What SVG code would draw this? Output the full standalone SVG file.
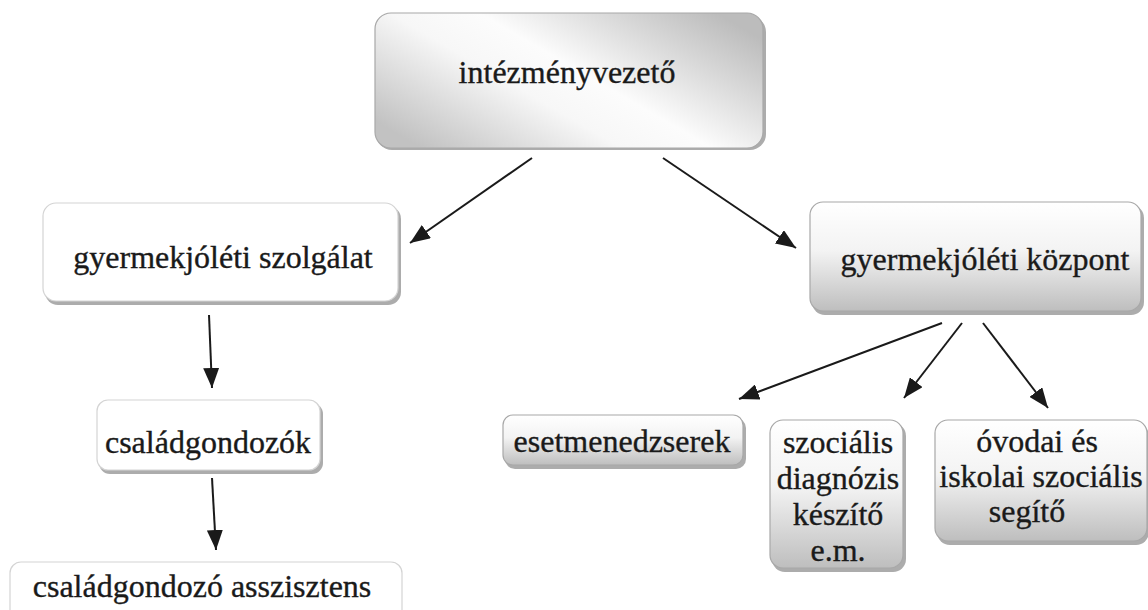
<svg xmlns="http://www.w3.org/2000/svg" width="1148" height="610" viewBox="0 0 1148 610" font-family="'Liberation Serif', 'Times New Roman', serif">
<style>
  text { font-size: 32px; fill: #1a1a1a; stroke: #1a1a1a; stroke-width: 0.35; text-anchor: middle; }
  .shadow { fill: #909090; opacity: 0.75; }
  .box-white { fill: #ffffff; stroke: #d4d4d4; stroke-width: 1.2; }
  .box-vert { fill: url(#gVert); stroke: #a8a8a8; stroke-width: 1.2; }
  .box-top { fill: url(#gTop); stroke: #a8a8a8; stroke-width: 1.2; }
  .conn { stroke: #1a1a1a; stroke-width: 2; fill: none; marker-end: url(#arrow); }
</style>
<defs>
  <linearGradient id="gTop" x1="0" y1="0.8" x2="1" y2="0.2">
    <stop offset="0" stop-color="#c2c2c2"/>
    <stop offset="0.38" stop-color="#f7f7f7"/>
    <stop offset="0.55" stop-color="#fcfcfc"/>
    <stop offset="0.8" stop-color="#d8d8d8"/>
    <stop offset="1" stop-color="#bcbcbc"/>
  </linearGradient>
  <linearGradient id="gVert" x1="0" y1="0" x2="0" y2="1">
    <stop offset="0" stop-color="#ffffff"/>
    <stop offset="0.45" stop-color="#f3f3f3"/>
    <stop offset="1" stop-color="#bebebe"/>
  </linearGradient>
  <marker id="arrow" markerUnits="userSpaceOnUse" markerWidth="22" markerHeight="16" refX="20" refY="8" orient="auto">
    <path d="M0,0 L20,8 L0,16 z" fill="#1a1a1a"/>
  </marker>
</defs>

<g id="connectors">
  <line class="conn" x1="532" y1="158" x2="410" y2="243"/>
  <line class="conn" x1="663" y1="158" x2="796" y2="248"/>
  <line class="conn" x1="209" y1="315" x2="212" y2="388"/>
  <line class="conn" x1="212" y1="478" x2="216" y2="550"/>
  <line class="conn" x1="942" y1="323" x2="739" y2="399"/>
  <line class="conn" x1="962" y1="323" x2="904" y2="398"/>
  <line class="conn" x1="983" y1="323" x2="1048" y2="408"/>
</g>

<g id="node-intezmenyvezeto">
  <rect class="shadow" x="376" y="16" width="390" height="134" rx="16"/>
  <rect class="box-top" x="375" y="13" width="388" height="135" rx="16"/>
  <text x="567" y="83">intézményvezető</text>
</g>

<g id="node-szolgalat">
  <rect class="shadow" x="45" y="206" width="356" height="99" rx="13" opacity="0.5"/>
  <rect class="box-white" x="43" y="203" width="355" height="98" rx="13"/>
  <text x="223" y="268">gyermekjóléti szolgálat</text>
</g>

<g id="node-kozpont">
  <rect class="shadow" x="812" y="205" width="332" height="110" rx="13"/>
  <rect class="box-vert" x="810" y="202" width="331" height="109" rx="13"/>
  <text x="985" y="270">gyermekjóléti központ</text>
</g>

<g id="node-csaladgondozok">
  <rect class="shadow" x="99" y="403" width="224" height="71" rx="11" opacity="0.5"/>
  <rect class="box-white" x="97" y="400" width="223" height="70" rx="11"/>
  <text x="208" y="453">családgondozók</text>
</g>

<g id="node-asszisztens">
  <rect class="box-white" x="10" y="562" width="392" height="60" rx="11"/>
  <text x="202" y="597">családgondozó asszisztens</text>
</g>

<g id="node-esetmenedzserek">
  <rect class="shadow" x="505" y="418" width="241" height="51" rx="10"/>
  <rect class="box-vert" x="503" y="415" width="240" height="50" rx="10"/>
  <text x="622" y="452">esetmenedzserek</text>
</g>

<g id="node-szocialis-diagnozis">
  <rect class="shadow" x="772" y="423" width="134" height="149" rx="13"/>
  <rect class="box-vert" x="770" y="420" width="133" height="148" rx="13"/>
  <text x="838" y="453">szociális</text>
  <text x="838" y="489">diagnózis</text>
  <text x="838" y="525">készítő</text>
  <text x="838" y="561">e.m.</text>
</g>

<g id="node-ovodai">
  <rect class="shadow" x="937" y="423" width="212" height="122" rx="13"/>
  <rect class="box-vert" x="935" y="420" width="212" height="121" rx="13"/>
  <text x="1037" y="452">óvodai és</text>
  <text x="1041" y="487">iskolai szociális</text>
  <text x="1027" y="522">segítő</text>
</g>
</svg>
